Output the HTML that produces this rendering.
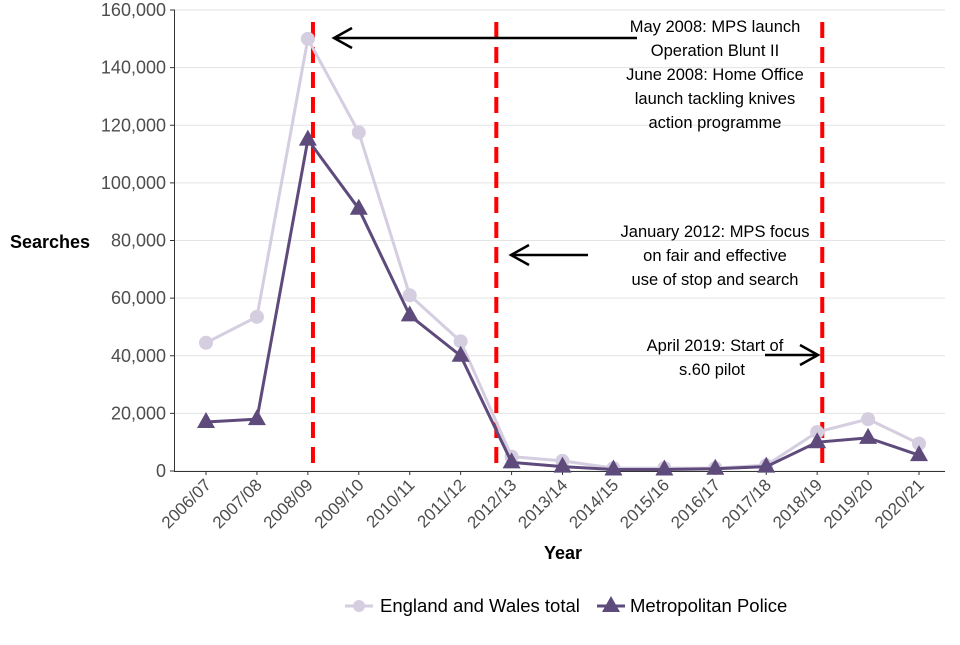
<!DOCTYPE html>
<html><head><meta charset="utf-8"><style>
body{margin:0;background:#fff;font-family:"Liberation Sans",Arial,sans-serif}
svg text{font-family:"Liberation Sans",Arial,sans-serif}
</style></head><body>
<svg id="chart" width="960" height="640" xmlns="http://www.w3.org/2000/svg">
<g id="grid"></g><g id="ylabels"></g><g id="xlabels"></g><g id="vlines"></g><g id="series"></g>
<text x="10" y="248" font-size="18" font-weight="bold" fill="#000">Searches</text>
<text x="563" y="559" font-size="18" font-weight="bold" text-anchor="middle" fill="#000">Year</text>
<g font-size="16.5" text-anchor="middle" fill="#000">
<text x="715" y="32">May 2008: MPS launch</text><text x="715" y="56">Operation Blunt II</text>
<text x="715" y="80">June 2008: Home Office</text><text x="715" y="104">launch tackling knives</text><text x="715" y="128">action programme</text>
<line x1="637" y1="38" x2="334" y2="38" stroke="#000" stroke-width="2.5"/><polyline points="352,28 334,38 352,48" fill="none" stroke="#000" stroke-width="2.5"/>
</g>
<g font-size="16.5" text-anchor="middle" fill="#000">
<text x="715" y="237">January 2012: MPS focus</text><text x="715" y="261">on fair and effective</text><text x="715" y="285">use of stop and search</text>
<line x1="588" y1="255" x2="511" y2="255" stroke="#000" stroke-width="2.5"/><polyline points="529,245 511,255 529,265" fill="none" stroke="#000" stroke-width="2.5"/>
</g>
<g font-size="16.5" text-anchor="middle" fill="#000">
<text x="715" y="351">April 2019: Start of</text><text x="712" y="375">s.60 pilot</text>
<line x1="765" y1="355" x2="818" y2="355" stroke="#000" stroke-width="2.5"/><polyline points="800,345 818,355 800,365" fill="none" stroke="#000" stroke-width="2.5"/>
</g>
<g>
<line x1="345" y1="606" x2="373" y2="606" stroke="#d5cde0" stroke-width="3"/><circle cx="359" cy="606" r="6" fill="#d5cde0"/>
<text x="380" y="612" font-size="18.5" fill="#000">England and Wales total</text>
<line x1="597" y1="606" x2="625" y2="606" stroke="#5e4b7c" stroke-width="3"/><polygon points="611,596 620,612 602,612" fill="#5e4b7c"/>
<text x="630" y="612" font-size="18.5" fill="#000">Metropolitan Police</text>
</g>
</svg>
<script>
const categories=["2006/07","2007/08","2008/09","2009/10","2010/11","2011/12","2012/13","2013/14","2014/15","2015/16","2016/17","2017/18","2018/19","2019/20","2020/21"];
const englandWales=[44500,53500,150000,117500,61000,45000,5000,3500,1000,1000,1000,2000,13500,18000,9500];
const metPolice=[17000,18000,115000,91000,54000,40000,3000,1500,500,500,800,1500,10000,11500,5500];
const yTicks=[0,20000,40000,60000,80000,100000,120000,140000,160000];
const eventPositions=[2.1,5.7,12.1];
const NS="http://www.w3.org/2000/svg";
const x=i=>206+i*50.93;
const y=v=>471-v/160000*461;
function mk(t,a,p){const e=document.createElementNS(NS,t);for(const k in a)e.setAttribute(k,a[k]);p.appendChild(e);return e;}
const grid=document.getElementById('grid'),yl=document.getElementById('ylabels'),xl=document.getElementById('xlabels');
yTicks.forEach(v=>{
 const l=mk('line',{x1:175,x2:945,y1:y(v),y2:y(v),stroke:'#e3e3e3','stroke-width':1},grid);
 
 
 mk('line',{x1:170,x2:175,y1:y(v),y2:y(v),stroke:'#333'},grid);
 const t=mk('text',{x:166,y:y(v)+6,'text-anchor':'end','font-size':18,fill:'#4d4d4d'},yl);
 t.textContent=v.toLocaleString('en-GB');
 
 
});
mk('line',{x1:175,x2:945,y1:471.5,y2:471.5,stroke:'#333','stroke-width':1},grid);
mk('line',{x1:174.5,x2:174.5,y1:10,y2:472,stroke:'#333','stroke-width':1},grid);
categories.forEach((c,i)=>{
 mk('line',{x1:x(i),x2:x(i),y1:471,y2:475,stroke:'#333'},grid);
 const t=mk('text',{x:x(i)+6,y:486,'text-anchor':'end','font-size':17,fill:'#4d4d4d',transform:`rotate(-45 ${x(i)+6} 486)`},xl);
 t.textContent=c;
 
 
});
const vl=document.getElementById('vlines');
eventPositions.forEach(p=>{
 const l=mk('line',{x1:x(p),x2:x(p),y1:22,y2:471,stroke:'#ff0000','stroke-width':4,'stroke-dasharray':'16,9'},vl);
 
 
});
const s=document.getElementById('series');
function draw(vals,color,shape,name){
 const pl=mk('polyline',{points:vals.map((v,i)=>x(i)+','+y(v)).join(' '),fill:'none',stroke:color,'stroke-width':3,'stroke-linejoin':'round'},s);
 
 
 vals.forEach((v,i)=>{
  let m;
  if(shape==='c')m=mk('circle',{cx:x(i),cy:y(v),r:7,fill:color},s);
  else m=mk('polygon',{points:`${x(i)},${y(v)-10} ${x(i)+9},${y(v)+6} ${x(i)-9},${y(v)+6}`,fill:color},s);
  
  
 });
}
draw(englandWales,'#d5cde0','c','england-wales');
draw(metPolice,'#5e4b7c','t','met-police');
</script>
</body></html>
